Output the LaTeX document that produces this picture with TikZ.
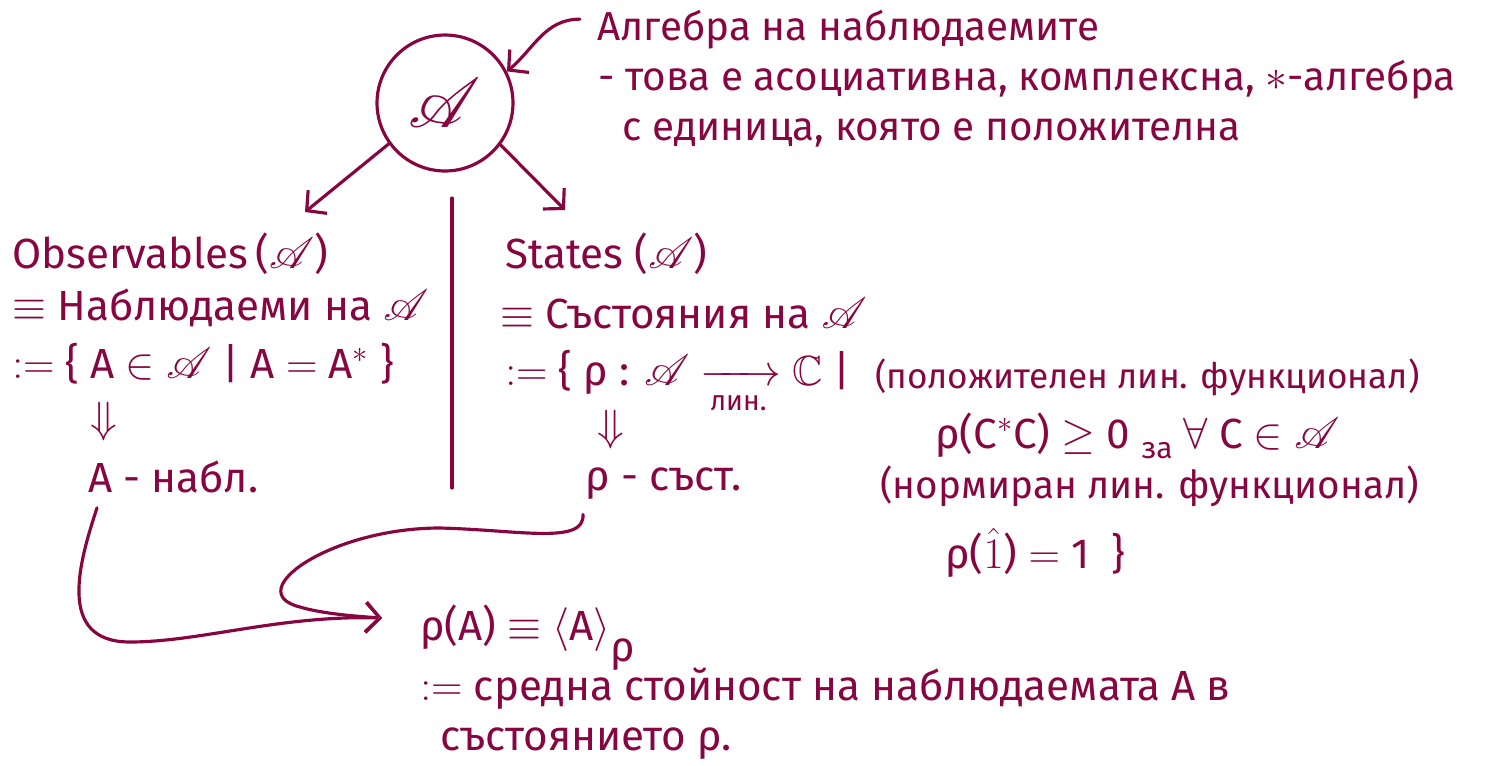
\documentclass[tikz,border=0pt]{standalone}
\usepackage{amsmath,amssymb,mathrsfs}
\usepackage{fontspec}
\setmainfont{Fira Sans}
\usetikzlibrary{arrows.meta,calc}
\definecolor{ink}{RGB}{135,5,65}
\newcommand\scrA{\ensuremath{\mathscr{A}}}
\tikzset{
  note/.style={anchor=base west,inner sep=0pt,text=ink,
               font=\fontsize{24}{28}\selectfont},
  topnote/.style={note,font=\fontsize{23}{27}\selectfont},
  arr/.style={-{Straight Barb[length=8pt,width=17pt,line width=1.8pt]},
              draw=ink,line width=1.8pt,line cap=round},
  rule/.style={draw=ink,line width=1.8pt,line cap=round},
}

\begin{document}
\begin{tikzpicture}[x=0.02cm,y=-0.02cm]
  \useasboundingbox (0,0) rectangle (1485,765);

  % the algebra
  \node[circle,draw=ink,line width=1.8pt,minimum size=2.72cm,inner sep=0pt,text=ink]
        (A) at (445,103) {\scalebox{1.6}{\fontsize{24}{24}\selectfont$\mathscr{A}$}};

  \node[topnote] (alg1) at (597,40)  {Алгебра на наблюдаемите};
  \node[topnote] (alg2) at (598,90)  {- това е асоциативна, комплексна, $*$-алгебра};
  \node[topnote] (alg3) at (622,140) {с единица, която е положителна};

  % observables
  \node[note] (obs1) at (12,268) {Observables\,(\scrA)};
  \node[note] (obs2) at (12,320) {$\equiv$ Наблюдаеми на \scrA};
  \node[note] (obs3) at (12,378) {$:=$ \{ A $\in$ \scrA\ | A $=$ A$^*$ \}};
  \node[note] (obsdn) at (90,432) {$\Downarrow$};
  \node[note] (anabl) at (88,492) {A - набл.};

  % states
  \node[note] (st1) at (505,268) {States (\scrA)};
  \node[note] (st2) at (500,328) {$\equiv$ Състояния на \scrA};
  \node[note] (st3) at (505,385) {$:=$ \{ ρ : \scrA\ $\xrightarrow[\text{\fontsize{16}{16}\selectfont лин.}]{\hspace{1.2em}}$ $\mathbb{C}$ |};
  \node[note,font=\fontsize{20}{24}\selectfont] (pos) at (875,388) {(положителен лин. функционал)};
  \node[note] (posc) at (935,448) {ρ(C$^*$C) $\geq$ 0 \raisebox{-6pt}{\fontsize{17}{17}\selectfont за} $\forall$ C $\in$ \scrA};
  \node[note] (stdn) at (597,440) {$\Downarrow$};
  \node[note] (rhost) at (585,490) {ρ - съст.};
  \node[note,font=\fontsize{22}{26}\selectfont] (norm) at (880,498) {(нормиран лин. функционал)};
  \node[note] (normc) at (945,568) {ρ($\hat{1}$) $=$ 1 \ \}};

  % expectation value
  \node[note] (rhoA)  at (420,640) {ρ(A) $\equiv$ $\langle$A$\rangle$\raisebox{-12pt}{ρ}};
  \node[note] (mean1) at (420,700) {$:=$ средна стойност на наблюдаемата A в};
  \node[note] (mean2) at (440,750) {състоянието ρ.};

  \coordinate (obsin) at (305,212);
  \coordinate (stin)  at (565,210);
  \coordinate (sepT)  at (452,198);
  \coordinate (sepB)  at (452,488);
  \coordinate (meet)  at (382,618);

  \draw[arr] ($(alg1.west)+(-17,-10)$) to[out=180,in=40] (A.27);
  \draw[arr] (A.216) -- (obsin);
  \draw[arr] (A.323) -- (stin);
  \draw[rule] (sepT) -- (sepB);

  \draw[arr] ($(anabl.south west)+(9,15)$) .. controls (80,560) and (55,642) .. (130,642)
             .. controls (200,642) and (280,615) .. (meet);
  \draw[arr] ($(rhost.south west)+(-2,15)$) .. controls (585,545) and (520,530) .. (440,528)
             .. controls (330,528) and (240,592) .. (300,607)
             .. controls (320,613) and (350,616) .. (meet);

\end{tikzpicture}
\end{document}
